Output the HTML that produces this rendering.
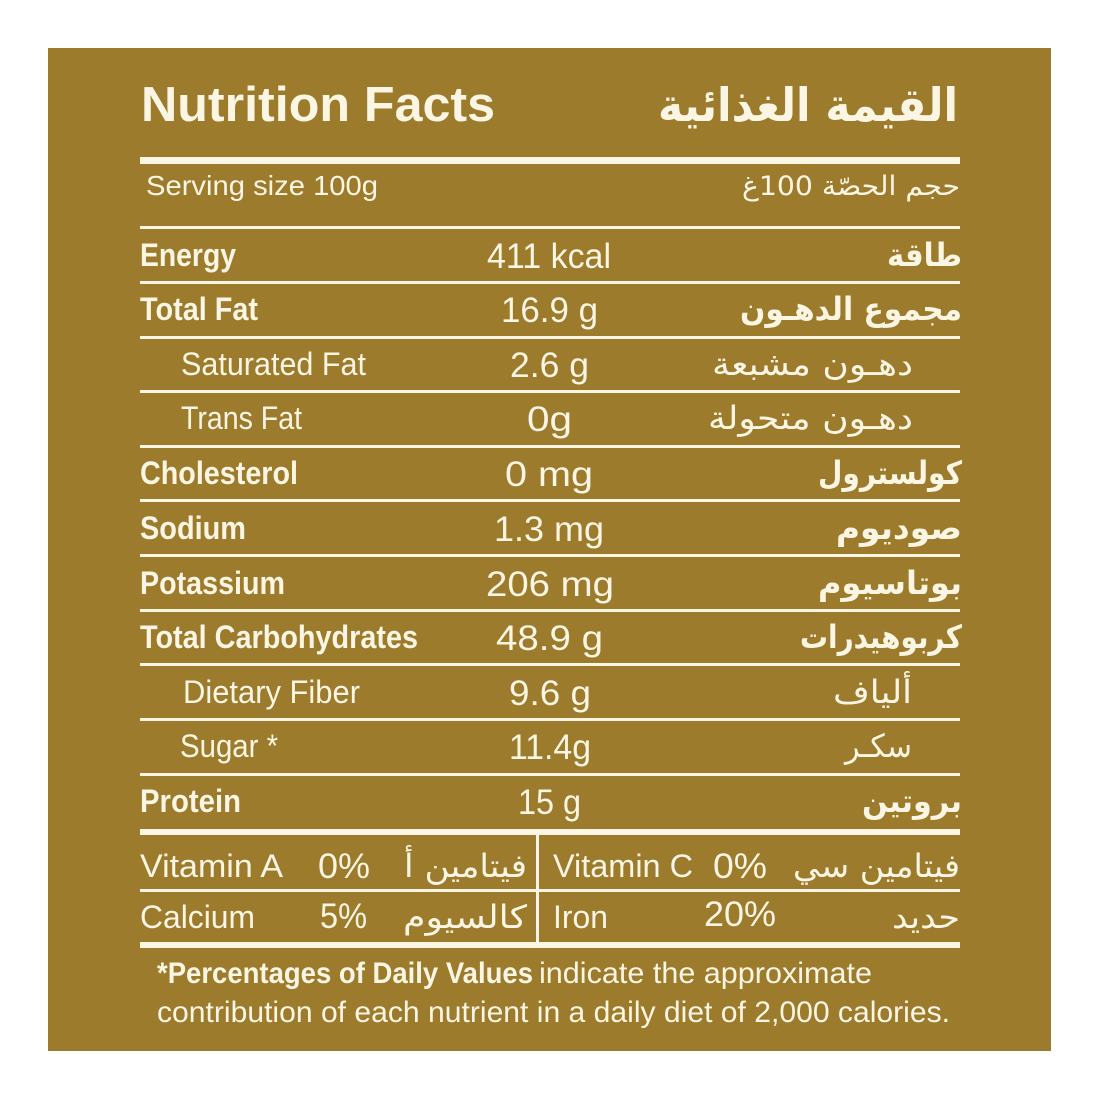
<!DOCTYPE html>
<html><head><meta charset="utf-8"><style>
html,body{margin:0;padding:0;background:#fff;}
svg{display:block}
text{fill:#fbf5e3;font-family:"Liberation Sans","DejaVu Sans",sans-serif;}
.b{font-weight:bold}
.ar{font-family:"DejaVu Sans",sans-serif;}
</style></head><body>
<svg width="1100" height="1100" viewBox="0 0 1100 1100" xmlns="http://www.w3.org/2000/svg">
<rect x="0" y="0" width="1100" height="1100" fill="#fff"/>
<rect x="48" y="48" width="1003" height="1003" fill="#9d7b2c"/>
<g fill="#fbf5e3">
<rect x="140" y="157" width="820" height="7"/>
<rect x="140" y="226" width="820" height="3"/>
<rect x="140" y="281" width="820" height="3"/>
<rect x="140" y="336" width="820" height="3"/>
<rect x="140" y="390" width="820" height="3"/>
<rect x="140" y="445" width="820" height="3"/>
<rect x="140" y="499" width="820" height="3"/>
<rect x="140" y="554" width="820" height="3"/>
<rect x="140" y="609" width="820" height="3"/>
<rect x="140" y="663" width="820" height="3"/>
<rect x="140" y="718" width="820" height="3"/>
<rect x="140" y="773" width="820" height="3"/>
<rect x="140" y="829" width="820" height="6"/>
<rect x="140" y="889" width="820" height="3"/>
<rect x="140" y="942" width="820" height="6"/>
<rect x="536" y="835" width="3" height="107"/>
</g>
<g font-size="32">
<text class="b" x="141" y="121" font-size="49" textLength="354" lengthAdjust="spacingAndGlyphs">Nutrition Facts</text>
<text class="b ar" x="658" y="121" font-size="46" textLength="300" lengthAdjust="spacingAndGlyphs">القيمة الغذائية</text>
<text x="146" y="195" font-size="28" textLength="232" lengthAdjust="spacingAndGlyphs">Serving size 100g</text>
<text class="ar" x="742" y="195" font-size="27" textLength="218" lengthAdjust="spacingAndGlyphs">حجم الحصّة 100غ</text>

<text class="b" x="140" y="266" textLength="96" lengthAdjust="spacingAndGlyphs">Energy</text>
<text x="487" y="268" font-size="35" textLength="124" lengthAdjust="spacingAndGlyphs">411 kcal</text>
<text class="b ar" x="887" y="266" textLength="75" lengthAdjust="spacingAndGlyphs">طاقة</text>

<text class="b" x="140" y="320" textLength="118" lengthAdjust="spacingAndGlyphs">Total Fat</text>
<text x="501" y="322" font-size="35" textLength="97" lengthAdjust="spacingAndGlyphs">16.9 g</text>
<text class="b ar" x="740" y="320" textLength="222" lengthAdjust="spacingAndGlyphs">مجموع الدهـون</text>

<text x="181" y="375" textLength="185" lengthAdjust="spacingAndGlyphs">Saturated Fat</text>
<text x="510" y="377" font-size="35" textLength="79" lengthAdjust="spacingAndGlyphs">2.6 g</text>
<text class="ar" x="712" y="375" textLength="201" lengthAdjust="spacingAndGlyphs">دهـون مشبعة</text>

<text x="181" y="429" textLength="121" lengthAdjust="spacingAndGlyphs">Trans Fat</text>
<text x="527" y="431" font-size="35" textLength="45" lengthAdjust="spacingAndGlyphs">0g</text>
<text class="ar" x="708" y="429" textLength="205" lengthAdjust="spacingAndGlyphs">دهـون متحولة</text>

<text class="b" x="140" y="484" textLength="158" lengthAdjust="spacingAndGlyphs">Cholesterol</text>
<text x="505" y="486" font-size="35" textLength="88" lengthAdjust="spacingAndGlyphs">0 mg</text>
<text class="b ar" x="818" y="484" textLength="144" lengthAdjust="spacingAndGlyphs">كولسترول</text>

<text class="b" x="140" y="539" textLength="106" lengthAdjust="spacingAndGlyphs">Sodium</text>
<text x="494" y="541" font-size="35" textLength="110" lengthAdjust="spacingAndGlyphs">1.3 mg</text>
<text class="b ar" x="836" y="539" textLength="126" lengthAdjust="spacingAndGlyphs">صوديوم</text>

<text class="b" x="140" y="594" textLength="145" lengthAdjust="spacingAndGlyphs">Potassium</text>
<text x="486" y="596" font-size="35" textLength="128" lengthAdjust="spacingAndGlyphs">206 mg</text>
<text class="b ar" x="818" y="594" textLength="144" lengthAdjust="spacingAndGlyphs">بوتاسيوم</text>

<text class="b" x="140" y="648" textLength="278" lengthAdjust="spacingAndGlyphs">Total Carbohydrates</text>
<text x="496" y="650" font-size="35" textLength="107" lengthAdjust="spacingAndGlyphs">48.9 g</text>
<text class="b ar" x="800" y="648" textLength="162" lengthAdjust="spacingAndGlyphs">كربوهيدرات</text>

<text x="183" y="703" textLength="177" lengthAdjust="spacingAndGlyphs">Dietary Fiber</text>
<text x="509" y="705" font-size="35" textLength="82" lengthAdjust="spacingAndGlyphs">9.6 g</text>
<text class="ar" x="833" y="703" textLength="79" lengthAdjust="spacingAndGlyphs">ألياف</text>

<text x="180" y="757" textLength="98" lengthAdjust="spacingAndGlyphs">Sugar *</text>
<text x="509" y="759" font-size="35" textLength="82" lengthAdjust="spacingAndGlyphs">11.4g</text>
<text class="ar" x="845" y="757" textLength="67" lengthAdjust="spacingAndGlyphs">سكـر</text>

<text class="b" x="140" y="812" textLength="101" lengthAdjust="spacingAndGlyphs">Protein</text>
<text x="518" y="814" font-size="35" textLength="63" lengthAdjust="spacingAndGlyphs">15 g</text>
<text class="b ar" x="862" y="812" textLength="100" lengthAdjust="spacingAndGlyphs">بروتين</text>

<text x="140" y="877" textLength="143" lengthAdjust="spacingAndGlyphs">Vitamin A</text>
<text x="318" y="878" font-size="35" textLength="52" lengthAdjust="spacingAndGlyphs">0%</text>
<text class="ar" x="404" y="877" textLength="123" lengthAdjust="spacingAndGlyphs">فيتامين أ</text>
<text x="553" y="877" textLength="140" lengthAdjust="spacingAndGlyphs">Vitamin C</text>
<text x="713" y="878" font-size="35" textLength="54" lengthAdjust="spacingAndGlyphs">0%</text>
<text class="ar" x="793" y="877" textLength="167" lengthAdjust="spacingAndGlyphs">فيتامين سي</text>

<text x="140" y="928" textLength="115" lengthAdjust="spacingAndGlyphs">Calcium</text>
<text x="320" y="928" font-size="35" textLength="47" lengthAdjust="spacingAndGlyphs">5%</text>
<text class="ar" x="403" y="928" textLength="124" lengthAdjust="spacingAndGlyphs">كالسيوم</text>
<text x="553" y="928" textLength="55" lengthAdjust="spacingAndGlyphs">Iron</text>
<text x="704" y="926" font-size="35" textLength="72" lengthAdjust="spacingAndGlyphs">20%</text>
<text class="ar" x="892" y="928" textLength="68" lengthAdjust="spacingAndGlyphs">حديد</text>

<text class="b" x="157" y="983" font-size="30" textLength="376" lengthAdjust="spacingAndGlyphs">*Percentages of Daily Values</text>
<text x="539" y="983" font-size="30" textLength="333" lengthAdjust="spacingAndGlyphs">indicate the approximate</text>
<text x="157" y="1022" font-size="30" textLength="793" lengthAdjust="spacingAndGlyphs">contribution of each nutrient in a daily diet of 2,000 calories.</text>
</g>
</svg>
</body></html>
